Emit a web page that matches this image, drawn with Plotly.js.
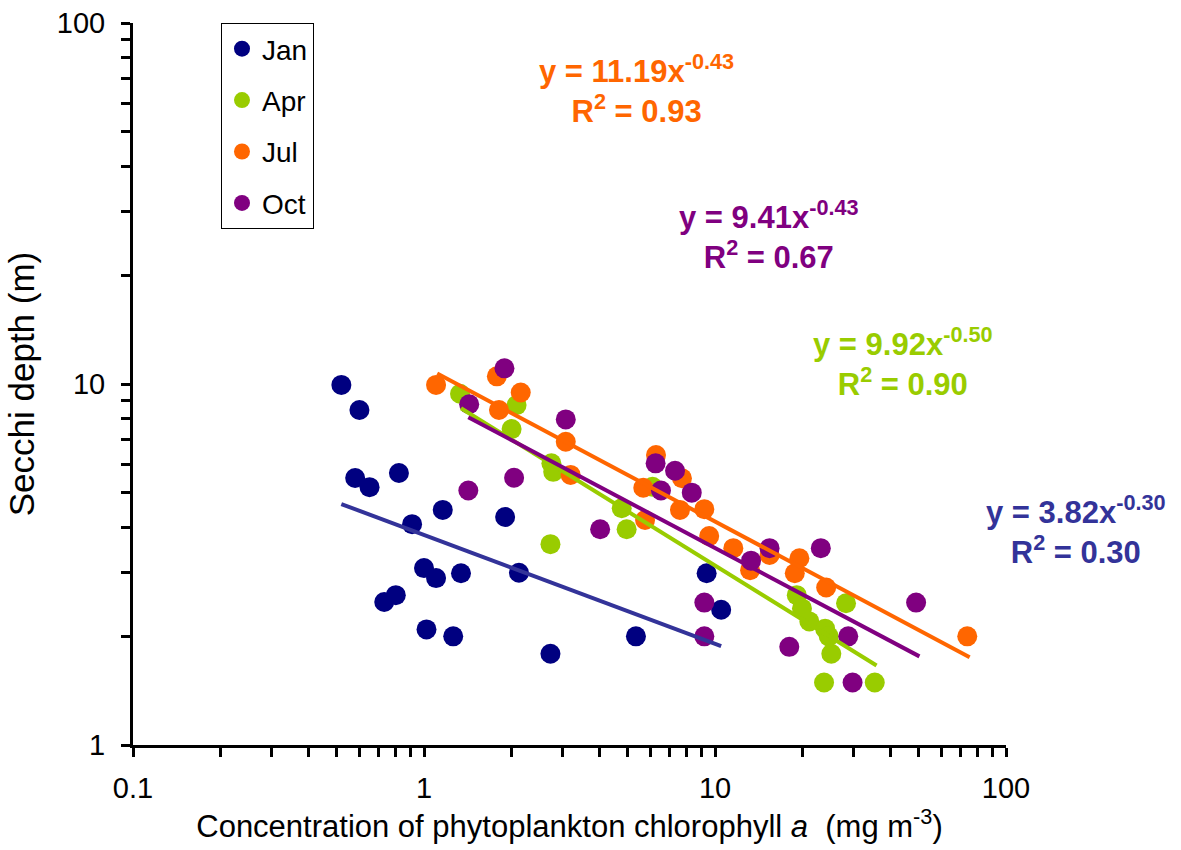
<!DOCTYPE html>
<html>
<head>
<meta charset="utf-8">
<script src="https://cdn.plot.ly/plotly-3.0.1.min.js"></script>
<style>
html,body{margin:0;padding:0;background:#fff;}
#chart{width:1181px;height:850px;}
</style>
</head>
<body>
<div id="chart"></div>
<script>
// ---- data ----
const janX = [0.52,0.60,0.58,0.65,0.82,0.91,1.16,1.90,1.00,1.10,1.34,2.12,0.80,0.73,1.02,1.26,2.72,9.36,10.5,5.35];
const janY = [9.94,8.47,5.49,5.18,5.67,4.09,4.48,4.28,3.09,2.90,2.99,3.00,2.60,2.49,2.09,2.00,1.79,2.99,2.37,2.00];

const aprX = [1.33,2.08,2.00,2.74,2.78,2.72,6.10,4.78,4.97,19.1,28.2,19.9,21.1,23.9,24.6,25.1,23.7,35.4];
const aprY = [9.40,8.74,7.50,6.03,5.71,3.60,5.19,4.53,3.96,2.60,2.47,2.39,2.20,2.10,2.00,1.79,1.49,1.49];

const julX = [1.10,1.78,2.15,1.81,3.07,3.19,6.27,7.70,5.67,5.75,7.58,9.19,9.55,11.56,13.2,15.4,19.5,18.8,24.1,73.6];
const julY = [9.94,10.5,9.47,8.47,6.92,5.60,6.36,5.48,5.16,4.20,4.48,4.50,3.79,3.51,3.05,3.36,3.29,2.99,2.73,2.00];

const octX = [1.89,1.43,3.07,2.04,1.42,4.03,6.25,7.29,6.52,8.32,15.4,13.3,23.1,9.19,9.19,18.0,28.7,49.1,29.7];
const octY = [11.05,8.79,7.98,5.50,5.07,3.96,6.03,5.75,5.07,5.00,3.51,3.24,3.51,2.48,2.00,1.87,2.00,2.48,1.49];

// power trend lines: end points (straight on log-log axes)
const janFitX = [0.52, 10.5];  const janFitY = [4.65, 1.88];
const aprFitX = [1.34, 35.9];  const aprFitY = [8.57, 1.66];
const julFitX = [1.11, 75.0];  const julFitY = [10.70, 1.75];
const octFitX = [1.42, 50.4];  const octFitY = [8.09, 1.76];

const seriesNames = ['Jan','Apr','Jul','Oct'];
const eqText = ['y = 3.82x<sup>-0.30</sup><br>R<sup>2</sup> = 0.30',
                'y = 9.92x<sup>-0.50</sup><br>R<sup>2</sup> = 0.90',
                'y = 11.19x<sup>-0.43</sup><br>R<sup>2</sup> = 0.93',
                'y = 9.41x<sup>-0.43</sup><br>R<sup>2</sup> = 0.67'];

const xTickVals = [0.1, 1, 10, 100];
const xTickText = ['0.1', '1', '10', '100'];
const yTickVals = [1, 10, 100];
const yTickText = ['1', '10', '100'];

// ---- styling ----
const markerCol = ['#000080', '#99CC00', '#FF6600', '#800080'];
const lineCol   = ['#333399', '#99CC00', '#FF6600', '#800080'];
const FONT = 'Liberation Sans, Arial, sans-serif';

const ptsX = [janX, aprX, julX, octX];
const ptsY = [janY, aprY, julY, octY];
const fitX = [janFitX, aprFitX, julFitX, octFitX];
const fitY = [janFitY, aprFitY, julFitY, octFitY];

const traces = [];
for (let i = 0; i < 4; i++) {
  traces.push({
    type: 'scatter', mode: 'markers', name: seriesNames[i],
    legendgroup: seriesNames[i],
    x: ptsX[i], y: ptsY[i],
    marker: {color: markerCol[i], size: 20, line: {width: 0}},
    hoverinfo: 'x+y'
  });
}
for (let i = 0; i < 4; i++) {
  traces.push({
    type: 'scatter', mode: 'lines', showlegend: false,
    x: fitX[i], y: fitY[i],
    line: {color: lineCol[i], width: 4},
    hoverinfo: 'skip'
  });
}

const eqPos = [[1.080, 0.298], [0.882, 0.530], [0.577, 0.909], [0.729, 0.707]];
const annotations = eqText.map((t, i) => ({
  xref: 'paper', yref: 'paper', x: eqPos[i][0], y: eqPos[i][1],
  xanchor: 'center', yanchor: 'middle', align: 'center',
  text: '<b>' + t.replace('<br>', '</b><br><b>') + '</b>',
  showarrow: false,
  font: {family: FONT, size: 31, color: lineCol[i]}
}));

const layout = {
  width: 1181, height: 850,
  margin: {l: 133, r: 175, t: 23, b: 105, pad: 0},
  paper_bgcolor: '#ffffff', plot_bgcolor: '#ffffff',
  font: {family: FONT, color: '#000'},
  showlegend: true,
  legend: {
    x: 0.1008, y: 1.0, xanchor: 'left', yanchor: 'top',
    bgcolor: '#ffffff', bordercolor: '#000000', borderwidth: 1,
    font: {family: FONT, size: 28, color: '#000'},
    tracegroupgap: 12, itemwidth: 30
  },
  xaxis: {
    type: 'log', range: [-1, 2], autorange: false,
    showline: true, linecolor: '#000', linewidth: 3,
    showgrid: false, zeroline: false, mirror: false,
    ticks: 'outside', ticklen: 9, tickwidth: 3, tickcolor: '#000',
    tickmode: 'array', tickvals: xTickVals, ticktext: xTickText,
    tickfont: {family: FONT, size: 29, color: '#000'},
    ticklabelstandoff: 6,
    minor: {dtick: 'D1', ticks: 'outside', ticklen: 9, tickwidth: 3, tickcolor: '#000', showgrid: false},
    title: {text: 'Concentration of phytoplankton chlorophyll <i>a</i>  (mg m<sup>-3</sup>)',
            font: {family: FONT, size: 31, color: '#000'}, standoff: 8},
    automargin: false
  },
  yaxis: {
    type: 'log', range: [0, 2], autorange: false,
    showline: true, linecolor: '#000', linewidth: 3,
    showgrid: false, zeroline: false, mirror: false,
    ticks: 'outside', ticklen: 9, tickwidth: 3, tickcolor: '#000',
    tickmode: 'array', tickvals: yTickVals, ticktext: yTickText,
    tickfont: {family: FONT, size: 29, color: '#000'},
    ticklabelstandoff: 10,
    minor: {dtick: 'D1', ticks: 'outside', ticklen: 9, tickwidth: 3, tickcolor: '#000', showgrid: false},
    title: {text: 'Secchi depth (m)', font: {family: FONT, size: 35, color: '#000'}, standoff: 12},
    automargin: false
  },
  annotations: annotations
};

Plotly.newPlot('chart', traces, layout, {displayModeBar: false, staticPlot: true});
</script>
</body>
</html>
